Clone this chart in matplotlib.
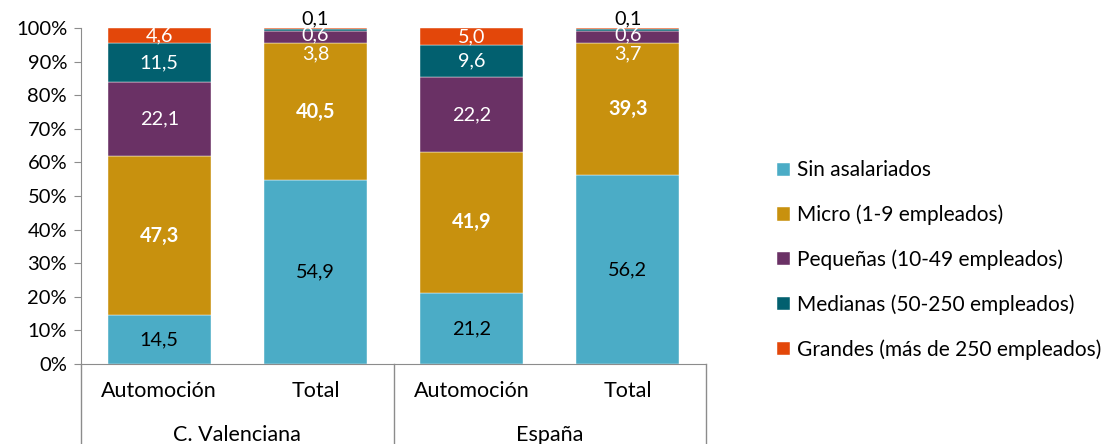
import numpy as np
import matplotlib.pyplot as plt

plt.rcParams['font.family'] = ['Lato', 'DejaVu Sans']

# categories and groups
cats = ['Automoción', 'Total', 'Automoción', 'Total']
groups = ['C. Valenciana', 'España']

series = ['Sin asalariados', 'Micro (1-9 empleados)', 'Pequeñas (10-49 empleados)',
          'Medianas (50-250 empleados)', 'Grandes (más de 250 empleados)']
sin_asal = [14.5, 54.9, 21.2, 56.2]
micro = [47.3, 40.5, 41.9, 39.3]
pequenas = [22.1, 3.8, 22.2, 3.7]
medianas = [11.5, 0.6, 9.6, 0.6]
grandes = [4.6, 0.1, 5.0, 0.1]

colors = ['#4BACC6', '#C8910E', '#6A3165', '#02606F', '#E3470A']

fig = plt.figure(figsize=(11.04, 4.44), dpi=100)
ax = fig.add_axes([81 / 1104, 80 / 444, 625 / 1104, 336 / 444])

x = np.arange(len(cats))
data = [sin_asal, micro, pequenas, medianas, grandes]
bottom = np.zeros(len(cats))
for vals, col, name in zip(data, colors, series):
    ax.bar(x, vals, bottom=bottom, width=0.66, color=col, label=name,
           edgecolor='white', linewidth=0.3)
    bottom += np.array(vals)

fs = 14.3
def fmt(v):
    return f'{v:.1f}'.replace('.', ',')

for i in range(len(cats)):
    b = 0
    for k, vals in enumerate(data):
        v = vals[i]
        c = b + v / 2
        b += v
        big = v >= 2
        if k == 0:
            ax.text(x[i], c, fmt(v), ha='center', va='center', fontsize=fs, color='black')
        elif k == 1:
            ax.text(x[i], c, fmt(v), ha='center', va='center', fontsize=fs, color='white', weight='bold')
        elif big and cats[i] == 'Automoción':
            ax.text(x[i], c, fmt(v), ha='center', va='center', fontsize=fs, color='white')
        else:
            # small segments on Total bars
            if k == 2:
                ax.annotate(fmt(v), (x[i], c), xytext=(0, -12), textcoords='offset points',
                            ha='center', va='center', fontsize=fs, color='white')
            elif k == 3:
                ax.annotate(fmt(v), (x[i], c), xytext=(0, -4), textcoords='offset points',
                            ha='center', va='center', fontsize=fs, color='white')
            else:
                ax.annotate(fmt(v), (x[i], c), xytext=(0, 7), textcoords='offset points',
                            ha='center', va='center', fontsize=fs, color='black')

ax.set_xlim(-0.5, len(cats) - 0.5)
ax.set_ylim(0, 100)
ax.set_yticks(np.arange(0, 101, 10))
ax.set_yticklabels([f'{t}%' for t in range(0, 101, 10)], fontsize=14.5)
ax.set_xticks([])
for s in ['top', 'right']:
    ax.spines[s].set_visible(False)
ax.spines['left'].set_color('#8C8C8C')
ax.spines['bottom'].set_color('#8C8C8C')
ax.tick_params(axis='y', length=5, color='#8C8C8C', pad=5)

# category labels and group separators below the axis
for i, c in enumerate(cats):
    ax.text(x[i], -0.08, c, transform=ax.get_xaxis_transform(), ha='center', va='center', fontsize=15.5)
for j, g in enumerate(groups):
    ax.text(2 * j + 0.5, -0.21, g, transform=ax.get_xaxis_transform(), ha='center', va='center', fontsize=15.5)
for xs in [-0.5, 1.5, 3.5]:
    ax.plot([xs, xs], [0, -0.25], transform=ax.get_xaxis_transform(), color='#8C8C8C',
            lw=1, clip_on=False)

ax.legend(loc='center left', bbox_to_anchor=(777 / 1104, 184 / 444), bbox_transform=fig.transFigure,
          frameon=False, fontsize=15, handlelength=0.6, handleheight=0.6, handletextpad=0.35,
          labelspacing=1.16, borderaxespad=0, borderpad=0)

fig.savefig('out.png', dpi=100)
